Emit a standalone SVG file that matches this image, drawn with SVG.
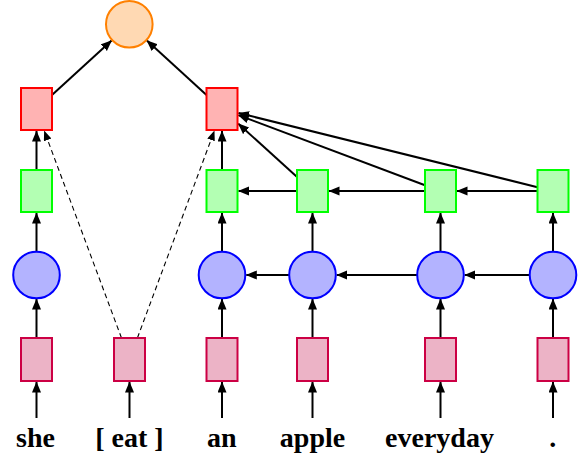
<svg xmlns="http://www.w3.org/2000/svg" width="582" height="457" viewBox="0 0 582 457">
<style>
.pink{fill:#ECB3C6;stroke:#CC0044;stroke-width:2}
.blue{fill:#B3B3FF;stroke:#0000FF;stroke-width:2}
.green{fill:#B3FFB3;stroke:#00FF00;stroke-width:2}
.red{fill:#FFB3B3;stroke:#FF0000;stroke-width:2}
.orange{fill:#FFD9B3;stroke:#FF8000;stroke-width:2}
.e{stroke:#000;stroke-width:2;fill:none;marker-end:url(#ah)}
.d{stroke:#000;stroke-width:1.1;fill:none;stroke-dasharray:5 3.5;marker-end:url(#ahs)}
</style>
<defs>
<marker id="ah" markerUnits="userSpaceOnUse" markerWidth="12" markerHeight="10" refX="10.5" refY="4.5" orient="auto"><path d="M0,0 L11,4.5 L0,9 z" fill="#000"/></marker>
<marker id="ahs" markerUnits="userSpaceOnUse" markerWidth="12" markerHeight="10" refX="9.5" refY="4" orient="auto"><path d="M0,0 L10,4 L0,8 z" fill="#000"/></marker>
</defs>
<g id="connectors">
<line class="e" x1="36.5" y1="418" x2="36.5" y2="382"/>
<line class="e" x1="129.5" y1="418" x2="129.5" y2="382"/>
<line class="e" x1="222" y1="418" x2="222" y2="382"/>
<line class="e" x1="312.5" y1="418" x2="312.5" y2="382"/>
<line class="e" x1="440.5" y1="418" x2="440.5" y2="382"/>
<line class="e" x1="553" y1="418" x2="553" y2="382"/>
<line class="e" x1="36.5" y1="338" x2="36.5" y2="299"/>
<line class="e" x1="222" y1="338" x2="222" y2="299"/>
<line class="e" x1="312.5" y1="338" x2="312.5" y2="299"/>
<line class="e" x1="440.5" y1="338" x2="440.5" y2="299"/>
<line class="e" x1="553" y1="338" x2="553" y2="299"/>
<line class="e" x1="36.5" y1="251.7" x2="36.5" y2="213"/>
<line class="e" x1="222" y1="251.7" x2="222" y2="213"/>
<line class="e" x1="312.5" y1="251.7" x2="312.5" y2="213"/>
<line class="e" x1="440.5" y1="251.7" x2="440.5" y2="213"/>
<line class="e" x1="553" y1="251.7" x2="553" y2="213"/>
<line class="e" x1="36.5" y1="170" x2="36.5" y2="131"/>
<line class="e" x1="222" y1="170" x2="222" y2="131"/>
<line class="e" x1="289.2" y1="275" x2="246.3" y2="275"/>
<line class="e" x1="417.2" y1="275" x2="336.8" y2="275"/>
<line class="e" x1="529.7" y1="275" x2="464.8" y2="275"/>
<line class="e" x1="296.8" y1="191" x2="238.5" y2="191"/>
<line class="e" x1="425" y1="191" x2="329" y2="191"/>
<line class="e" x1="537.5" y1="191" x2="457" y2="191"/>
<line class="e" x1="296.8" y1="176.7" x2="238.3" y2="123.7"/>
<line class="e" x1="425" y1="185.2" x2="238.4" y2="115.1"/>
<line class="e" x1="537.5" y1="187.2" x2="238.5" y2="113"/>
<line class="e" x1="52" y1="94.9" x2="111.6" y2="40.5"/>
<line class="e" x1="206.5" y1="94.9" x2="146.9" y2="40.5"/>
<line class="d" x1="121.5" y1="338" x2="44.3" y2="131"/>
<line class="d" x1="137.4" y1="338" x2="214.3" y2="131"/>
</g>
<g id="out"><circle class="orange" cx="129.3" cy="24.3" r="23.3"/></g>
<g id="red-she"><rect class="red" x="21" y="88" width="31" height="42"/></g>
<g id="red-an"><rect class="red" x="206.5" y="88" width="31" height="42"/></g>
<g id="green-she"><rect class="green" x="21" y="170" width="31" height="42"/></g>
<g id="green-an"><rect class="green" x="206.5" y="170" width="31" height="42"/></g>
<g id="green-apple"><rect class="green" x="297" y="170" width="31" height="42"/></g>
<g id="green-everyday"><rect class="green" x="425" y="170" width="31" height="42"/></g>
<g id="green-dot"><rect class="green" x="537.5" y="170" width="31" height="42"/></g>
<g id="rnn-she"><circle class="blue" cx="36.5" cy="275" r="23.3"/></g>
<g id="rnn-an"><circle class="blue" cx="222" cy="275" r="23.3"/></g>
<g id="rnn-apple"><circle class="blue" cx="312.5" cy="275" r="23.3"/></g>
<g id="rnn-everyday"><circle class="blue" cx="440.5" cy="275" r="23.3"/></g>
<g id="rnn-dot"><circle class="blue" cx="553" cy="275" r="23.3"/></g>
<g id="emb-she"><rect class="pink" x="21" y="338" width="31" height="43"/></g>
<g id="emb-eat"><rect class="pink" x="114" y="338" width="31" height="43"/></g>
<g id="emb-an"><rect class="pink" x="206.5" y="338" width="31" height="43"/></g>
<g id="emb-apple"><rect class="pink" x="297" y="338" width="31" height="43"/></g>
<g id="emb-everyday"><rect class="pink" x="425" y="338" width="31" height="43"/></g>
<g id="emb-dot"><rect class="pink" x="537.5" y="338" width="31" height="43"/></g>
<g id="words" font-family="'Liberation Serif', 'Times New Roman', 'DejaVu Serif', serif" font-weight="bold" font-size="28" text-anchor="middle" fill="#000">
<text x="35.5" y="447">she</text>
<text x="129.5" y="447">[ eat ]</text>
<text x="221.7" y="447">an</text>
<text x="312.5" y="447">apple</text>
<text x="439.5" y="447">everyday</text>
<text x="552.7" y="447">.</text>
</g>
</svg>
